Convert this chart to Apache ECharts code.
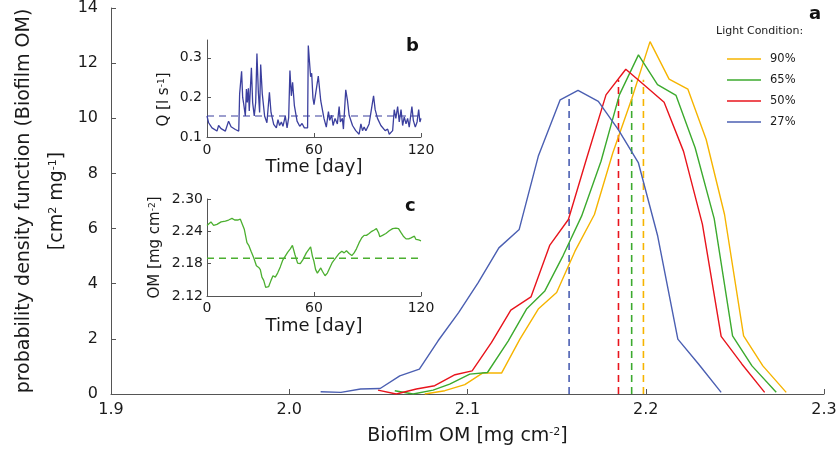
<!DOCTYPE html>
<html>
<head>
<meta charset="utf-8">
<script src="https://cdn.jsdelivr.net/npm/echarts@6/dist/echarts.min.js"></script>
<style>
  html, body { margin: 0; padding: 0; background: #fff; }
  #chart { width: 839px; height: 457px; }
</style>
</head>
<body>
<div id="chart"></div>
<script>
// pdf curves (biofilm OM vs density), one pair of arrays per light condition
const om90 = [2.076, 2.0873, 2.0985, 2.1084, 2.1191, 2.1294, 2.1397, 2.15, 2.1603, 2.1712, 2.1815, 2.1921, 2.2024, 2.2131, 2.2236, 2.2339, 2.2442, 2.2549, 2.2657, 2.2788];
const pdf90 = [0, 0.12, 0.34, 0.76, 0.76, 1.99, 3.08, 3.68, 5.18, 6.51, 8.74, 10.7, 12.78, 11.42, 11.06, 9.23, 6.51, 2.11, 1.02, 0.06];
const om65 = [2.0592, 2.0695, 2.0807, 2.090, 2.1013, 2.1112, 2.1229, 2.1331, 2.1434, 2.1537, 2.164, 2.1749, 2.1852, 2.1959, 2.2066, 2.217, 2.2277, 2.2384, 2.2487, 2.2596, 2.2732];
const pdf65 = [0.12, 0, 0.14, 0.36, 0.72, 0.78, 1.93, 3.08, 3.74, 5.03, 6.45, 8.44, 10.85, 12.3, 11.22, 10.83, 8.93, 6.36, 2.11, 1.02, 0.06];
const om50 = [2.0498, 2.060, 2.0713, 2.0816, 2.093, 2.1026, 2.1135, 2.1243, 2.1356, 2.1462, 2.1566, 2.1669, 2.1777, 2.1888, 2.1996, 2.2103, 2.2212, 2.2318, 2.2423, 2.2539, 2.2667];
const pdf50 = [0.14, 0, 0.18, 0.3, 0.7, 0.84, 1.87, 3.04, 3.52, 5.4, 6.33, 8.56, 10.85, 11.78, 11.18, 10.58, 8.8, 6.15, 2.09, 1.09, 0.06];
const om27 = [2.0176, 2.029, 2.040, 2.051, 2.062, 2.073, 2.0835, 2.095, 2.106, 2.1176, 2.129, 2.1397, 2.152, 2.162, 2.1734, 2.1846, 2.1959, 2.2067, 2.218, 2.2296, 2.2423];
const pdf27 = [0.08, 0.06, 0.18, 0.2, 0.66, 0.9, 1.93, 2.95, 4.04, 5.3, 5.97, 8.62, 10.67, 11.01, 10.61, 9.59, 8.38, 5.73, 1.99, 1.09, 0.06];

const lightNames = ['90%', '65%', '50%', '27%'];
const meanOM = [2.1987, 2.1921, 2.1847, 2.157];
const meanTop = [11.4, 11.4, 11.4, 10.8];

// inset b: discharge time series
const qDay = [0, 0.9, 2.8, 5.6, 6.5, 7.9, 10.3, 12.1, 13.5, 15.9, 17.8, 18.3, 18.9, 19.4, 20, 20.6, 21.5, 22.1, 22.6, 23.2, 23.7, 24.9, 25.6, 26.5, 27.3, 28, 28.8, 29.5, 30.1, 31, 32.3, 33.6, 35, 35.9, 37.4, 38.9, 39.8, 40.7, 41.7, 42.6, 43.9, 44.9, 45.8, 46.5, 47.3, 48, 49, 50.5, 52, 53.3, 54.6, 55.7, 56.4, 56.8, 58.1, 58.7, 59.4, 60, 62.4, 63.8, 65.6, 66.9, 68.1, 68.8, 69.9, 70.7, 71.8, 73.1, 74.1, 74.8, 75.9, 76.5, 77.8, 78.8, 79.7, 81.6, 83.4, 85.3, 86.3, 87.2, 88.1, 89.1, 90, 90.9, 93.4, 94.3, 95.6, 97.5, 98.4, 99.9, 101.3, 102.2, 104.1, 105, 105.9, 106.9, 107.8, 108.8, 109.7, 110.6, 111.6, 112.5, 113.4, 114.9, 115.7, 116.8, 117.8, 118.7, 119.4, 120];
const qFlow = [0.153, 0.136, 0.123, 0.115, 0.129, 0.121, 0.115, 0.140, 0.126, 0.119, 0.115, 0.209, 0.204, 0.266, 0.2, 0.183, 0.153, 0.221, 0.187, 0.223, 0.166, 0.275, 0.187, 0.153, 0.187, 0.311, 0.213, 0.162, 0.283, 0.209, 0.153, 0.136, 0.213, 0.162, 0.132, 0.123, 0.144, 0.129, 0.138, 0.127, 0.153, 0.123, 0.149, 0.268, 0.204, 0.238, 0.179, 0.140, 0.127, 0.134, 0.123, 0.126, 0.123, 0.331, 0.252, 0.261, 0.199, 0.182, 0.254, 0.191, 0.147, 0.125, 0.164, 0.142, 0.155, 0.129, 0.147, 0.133, 0.177, 0.138, 0.147, 0.120, 0.219, 0.191, 0.155, 0.129, 0.116, 0.107, 0.133, 0.116, 0.125, 0.116, 0.111, 0.133, 0.204, 0.169, 0.147, 0.129, 0.125, 0.116, 0.120, 0.107, 0.116, 0.169, 0.147, 0.177, 0.138, 0.169, 0.129, 0.151, 0.133, 0.147, 0.125, 0.177, 0.142, 0.125, 0.138, 0.169, 0.138, 0.147];
const qMean = 0.153;

// inset c: biofilm OM time series
const omDay = [0, 0.9, 2.2, 3.7, 5.6, 7.9, 10.3, 12.1, 14, 15.5, 17.2, 18.7, 19.6, 20.9, 22.4, 23.4, 24.7, 26.2, 27.7, 29, 29.9, 30.8, 31.8, 32.9, 33.6, 34.6, 35.9, 37, 38.3, 39.6, 41.1, 42.4, 43.9, 45.2, 46.7, 47.9, 49.3, 50.8, 52.3, 53.8, 55.7, 56.8, 58.1, 59.1, 60, 60.9, 61.9, 62.8, 63.8, 64.7, 66.2, 67.5, 68.8, 70.3, 72.2, 74.1, 75.6, 76.9, 78.2, 79.7, 81.2, 82.5, 83.8, 85.3, 86.8, 88.1, 89.4, 90.9, 92.4, 93.8, 95, 96.2, 96.9, 98.4, 100.3, 102.2, 104.1, 105.9, 107.4, 108.8, 110.1, 111.6, 113.1, 114.4, 115.3, 116.3, 117.2, 118.7, 120];
const omVal = [2.251, 2.253, 2.2575, 2.251, 2.253, 2.2575, 2.259, 2.261, 2.264, 2.261, 2.261, 2.2625, 2.261, 2.244, 2.219, 2.214, 2.203, 2.191, 2.176, 2.173, 2.169, 2.155, 2.149, 2.136, 2.134, 2.1375, 2.149, 2.1575, 2.155, 2.1625, 2.174, 2.186, 2.194, 2.201, 2.2075, 2.214, 2.197, 2.181, 2.18, 2.1875, 2.2, 2.2025, 2.211, 2.194, 2.184, 2.169, 2.1625, 2.164, 2.172, 2.166, 2.1575, 2.1625, 2.172, 2.1825, 2.1906, 2.199, 2.203, 2.2, 2.204, 2.199, 2.195, 2.2, 2.2075, 2.219, 2.228, 2.2325, 2.2325, 2.236, 2.24, 2.2425, 2.245, 2.2375, 2.23, 2.2325, 2.236, 2.241, 2.245, 2.246, 2.245, 2.2375, 2.231, 2.226, 2.226, 2.228, 2.226, 2.231, 2.225, 2.224, 2.2225];
const omMean = 2.19;

const qTicks = [0.1, 0.2, 0.3];
const omTicks = [2.12, 2.18, 2.24, 2.30];

const colors = ['#f6b400', '#3caa2e', '#e8141c', '#4b5fb2'];
const qColor = '#3b3f9e';
const omColor = '#4caf30';
const font = 'DejaVu Sans';
const axisColor = '#555';
const textColor = '#1a1a1a';

function zip(a, b) {
  return a.map(function (v, i) { return [v, b[i]]; });
}

// superscript style for rich text names
const supRich = function (size) {
  return { s: { fontSize: size, fontFamily: font, color: textColor, verticalAlign: 'top' } };
};

function axisBase(extra) {
  return Object.assign({
    type: 'value',
    axisLine: { show: true, lineStyle: { color: axisColor, width: 1 } },
    axisTick: { show: true, inside: true, length: 5, lineStyle: { color: axisColor } },
    splitLine: { show: false },
    axisLabel: { color: textColor, fontFamily: font }
  }, extra);
}

const chart = echarts.init(document.getElementById('chart'), null, { renderer: 'canvas' });

const curves = [[om90, pdf90], [om65, pdf65], [om50, pdf50], [om27, pdf27]];
let series = [];
curves.forEach(function (c, i) {
  series.push({
    name: lightNames[i],
    type: 'line',
    xAxisIndex: 0, yAxisIndex: 0,
    data: zip(c[0], c[1]),
    symbol: 'none',
    lineStyle: { color: colors[i], width: 1.4 },
    itemStyle: { color: colors[i] },
    z: 3 + i
  });
});
// dashed means
meanOM.forEach(function (m, i) {
  series.push({
    type: 'line',
    xAxisIndex: 0, yAxisIndex: 0,
    data: [[m, 0], [m, meanTop[i]]],
    symbol: 'none',
    lineStyle: { color: colors[i], width: 1.6, type: [7, 5] },
    z: 2
  });
});
// inset b
series.push({
  type: 'line', xAxisIndex: 1, yAxisIndex: 1,
  data: zip(qDay, qFlow), symbol: 'none',
  lineStyle: { color: qColor, width: 1.3 }
});
series.push({
  type: 'line', xAxisIndex: 1, yAxisIndex: 1,
  data: [[0, qMean], [120, qMean]], symbol: 'none',
  lineStyle: { color: qColor, width: 1.2, type: [7, 5] }
});
// inset c
series.push({
  type: 'line', xAxisIndex: 2, yAxisIndex: 2,
  data: zip(omDay, omVal), symbol: 'none',
  lineStyle: { color: omColor, width: 1.3 }
});
series.push({
  type: 'line', xAxisIndex: 2, yAxisIndex: 2,
  data: [[0, omMean], [120, omMean]], symbol: 'none',
  lineStyle: { color: omColor, width: 1.4, type: [7, 5] }
});

const yTitleRich = supRich(11);
yTitleRich.a = { fontSize: 19, fontFamily: font, color: textColor, padding: [0, 0, 14, 0] };

const option = {
  backgroundColor: '#fff',
  animation: false,
  textStyle: { fontFamily: font },
  grid: [
    { left: 111, right: 15, top: 8, bottom: 63, outerBoundsMode: 'none' },
    { left: 207, top: 40, width: 214, height: 97, outerBoundsMode: 'none' },
    { left: 207, top: 199, width: 214, height: 97, outerBoundsMode: 'none' }
  ],
  xAxis: [
    axisBase({
      gridIndex: 0, min: 1.9, max: 2.3, interval: 0.1,
      axisLabel: { color: textColor, fontFamily: font, fontSize: 16, margin: 8, formatter: function (v) { return v.toFixed(1); } },
      name: 'Biofilm OM [mg cm{s|-2}]', nameLocation: 'middle', nameGap: 33,
      nameTextStyle: { fontSize: 19, color: textColor, fontFamily: font, rich: supRich(11) }
    }),
    axisBase({
      gridIndex: 1, min: 0, max: 120, interval: 60,
      axisTick: { show: true, inside: true, length: 4, lineStyle: { color: axisColor } },
      axisLabel: { color: textColor, fontFamily: font, fontSize: 14, margin: 6 },
      name: 'Time [day]', nameLocation: 'middle', nameGap: 21,
      nameTextStyle: { fontSize: 18, color: textColor, fontFamily: font }
    }),
    axisBase({
      gridIndex: 2, min: 0, max: 120, interval: 60,
      axisTick: { show: true, inside: true, length: 4, lineStyle: { color: axisColor } },
      axisLabel: { color: textColor, fontFamily: font, fontSize: 14, margin: 5 },
      name: 'Time [day]', nameLocation: 'middle', nameGap: 21,
      nameTextStyle: { fontSize: 18, color: textColor, fontFamily: font }
    })
  ],
  yAxis: [
    axisBase({
      gridIndex: 0, min: 0, max: 14, interval: 2,
      axisLabel: { color: textColor, fontFamily: font, fontSize: 16, margin: 13 },
      name: '{a|probability density function (Biofilm OM)}\n[cm{s|2} mg{s|-1}]',
      nameLocation: 'middle', nameRotate: 90, nameGap: 8,
      nameTextStyle: { fontSize: 19, color: textColor, fontFamily: font, rich: yTitleRich }
    }),
    axisBase({
      gridIndex: 1, min: 0.1, max: 0.345,
      axisTick: { show: true, inside: true, length: 4, customValues: qTicks, lineStyle: { color: axisColor } },
      axisLabel: { color: textColor, fontFamily: font, fontSize: 14, margin: 5, customValues: qTicks,
        formatter: function (v) { return v.toFixed(1); } },
      name: 'Q [l s{s|-1}]', nameLocation: 'middle', nameRotate: 90, nameGap: 35,
      nameTextStyle: { fontSize: 15, color: textColor, fontFamily: font, rich: supRich(9), padding: [0, 22, 0, 0] }
    }),
    axisBase({
      gridIndex: 2, min: 2.12, max: 2.30,
      axisTick: { show: true, inside: true, length: 4, customValues: omTicks, lineStyle: { color: axisColor } },
      axisLabel: { color: textColor, fontFamily: font, fontSize: 14, margin: 4, customValues: omTicks,
        formatter: function (v) { return v.toFixed(2); } },
      name: 'OM [mg cm{s|-2}]', nameLocation: 'middle', nameRotate: 90, nameGap: 44,
      nameTextStyle: { fontSize: 15, color: textColor, fontFamily: font, rich: supRich(9) }
    })
  ],
  legend: {
    data: lightNames,
    orient: 'vertical',
    left: 722, top: 48,
    icon: 'rect',
    itemWidth: 34, itemHeight: 1.6, itemGap: 9,
    textStyle: { fontSize: 11.5, color: textColor, fontFamily: font, padding: [0, 0, 0, 4] }
  },
  graphic: [
    { type: 'text', left: 716, top: 26, style: { text: 'Light Condition:', fontSize: 11, fontFamily: font, fill: textColor } },
    { type: 'text', left: 809, top: 5, style: { text: 'a', fontSize: 18, fontWeight: 'bold', fontFamily: font, fill: '#111' } },
    { type: 'text', left: 406, top: 37, style: { text: 'b', fontSize: 18, fontWeight: 'bold', fontFamily: font, fill: '#111' } },
    { type: 'text', left: 405, top: 197, style: { text: 'c', fontSize: 18, fontWeight: 'bold', fontFamily: font, fill: '#111' } }
  ],
  series: series
};

chart.setOption(option);
</script>
</body>
</html>
